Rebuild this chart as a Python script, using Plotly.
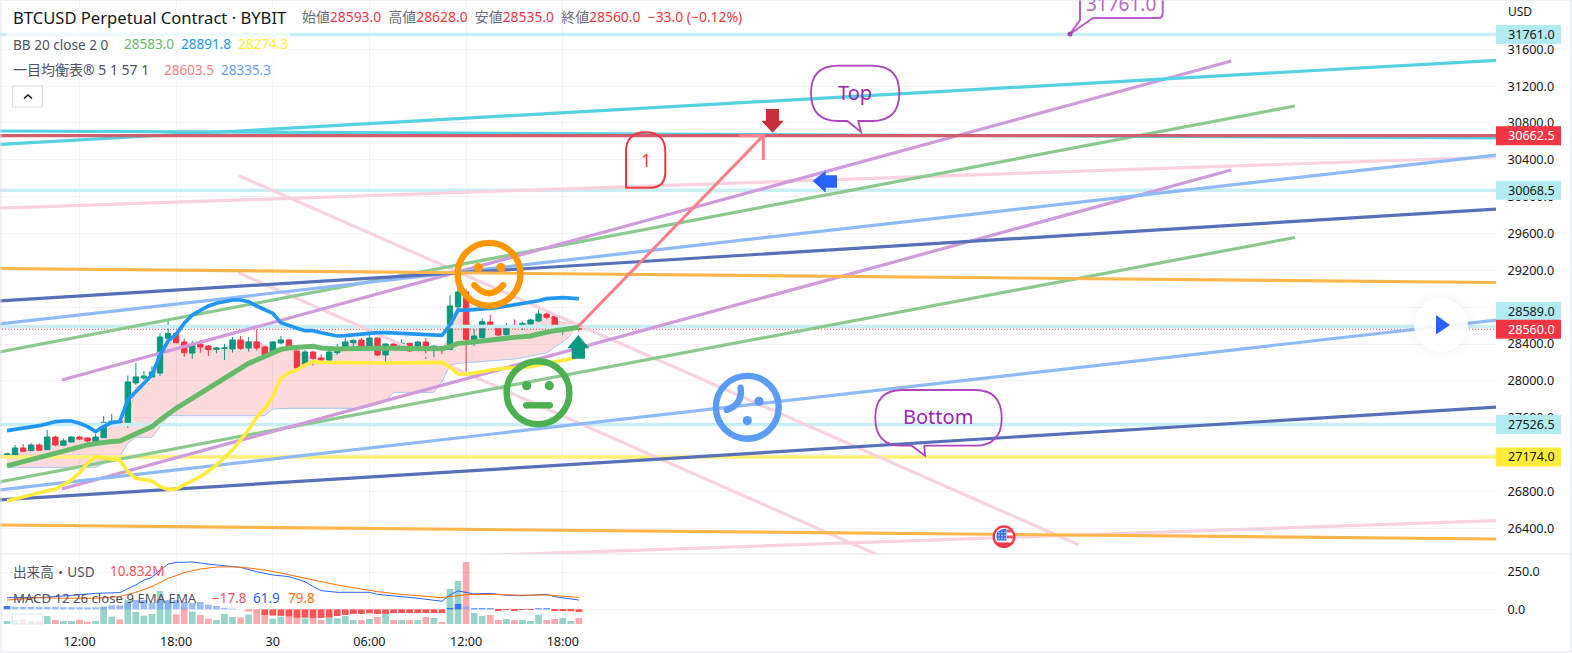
import plotly.graph_objects as go

W, H = 1572, 653
FONT = "Noto Sans, Noto Sans CJK JP, sans-serif"

# ---------- data (bar index: one bar = 30 min, 0 = 12:00 on the 29th) ----------
bars = list(range(-9, 63))
opens = [27199,27195,27271,27242,27304,27253,27390,27300,27336,27390,27380,27343,27383,27524,27561,27532,27977,28031,28042,28085,28462,28516,28422,28302,28400,28378,28342,28353,28346,28444,28357,28422,28368,28302,28411,28444,28324,28183,28313,28248,28226,28306,28335,28414,28443,28378,28465,28281,28400,28378,28407,28328,28422,28335,28371,28342,28805,28965,28443,28472,28639,28595,28501,28603,28592,28617,28650,28726,28700,28570,28577,28593]
highs = [27206,27304,27315,27322,27322,27466,27405,27376,27398,27401,27387,27423,27618,27640,27575,28060,28194,28107,28161,28516,28661,28527,28462,28436,28440,28389,28368,28400,28476,28487,28476,28559,28378,28433,28487,28451,28371,28335,28324,28288,28328,28400,28465,28451,28465,28501,28472,28407,28407,28451,28414,28433,28465,28386,28378,28932,29004,28994,28570,28679,28715,28606,28628,28668,28642,28675,28776,28747,28704,28595,28606,28628]
lows = [27170,27195,27228,27238,27242,27249,27289,27296,27333,27358,27329,27336,27380,27521,27517,27488,27955,28009,28038,28053,28433,28411,28259,28241,28306,28270,28299,28226,28306,28335,28317,28328,28277,28299,28397,28364,28125,28172,28165,28219,28219,28281,28331,28364,28364,28371,28270,28208,28371,28335,28317,28313,28237,28237,28291,28335,28769,28096,28378,28462,28588,28487,28494,28566,28552,28570,28639,28668,28588,28498,28566,28535]
closes = [27206,27271,27235,27304,27246,27390,27304,27347,27390,27369,27347,27390,27550,27561,27528,27988,28042,28053,28096,28476,28516,28415,28306,28400,28368,28339,28357,28357,28444,28353,28422,28357,28281,28422,28444,28368,28140,28313,28245,28226,28313,28320,28422,28440,28371,28465,28281,28400,28378,28407,28324,28422,28335,28378,28353,28813,28965,28451,28487,28642,28595,28498,28603,28588,28624,28661,28726,28690,28595,28595,28595,28560]

bb_basis = [27076,27100,27123,27141,27159,27182,27206,27236,27267,27285,27304,27320,27336,27342,27347,27387,27423,27459,27503,27575,27647,27702,27756,27810,27865,27930,27980,28035,28089,28143,28190,28226,28263,28299,28342,28357,28364,28368,28375,28357,28349,28346,28349,28353,28353,28353,28353,28353,28353,28353,28357,28360,28357,28353,28349,28371,28407,28414,28425,28440,28451,28458,28469,28472,28480,28487,28509,28530,28545,28556,28566,28583]
bb_upper = [27459,27472,27485,27499,27513,27535,27557,27564,27564,27539,27503,27448,27503,27546,27557,27792,27883,27962,28064,28281,28433,28505,28625,28715,28769,28813,28842,28860,28878,28878,28860,28813,28769,28733,28632,28596,28570,28545,28545,28523,28501,28487,28491,28501,28509,28516,28523,28523,28519,28516,28516,28509,28509,28501,28494,28606,28769,28769,28773,28780,28787,28798,28813,28823,28834,28849,28870,28892,28899,28903,28899,28891.8]
bb_lower = [26696,26720,26743,26766,26790,26806,26822,26873,26924,27003,27105,27177,27159,27148,27141,27014,26942,26924,26913,26851,26822,26826,26869,26913,26960,27021,27086,27170,27249,27358,27466,27604,27702,27828,28027,28089,28118,28172,28208,28201,28201,28205,28205,28205,28201,28197,28194,28194,28197,28197,28197,28201,28201,28201,28201,28147,28074,28071,28081,28100,28118,28132,28139,28143,28147,28154,28172,28190,28208,28226,28241,28274.3]

span_a = [27220,27195,27231,27257,27275,27315,27340,27351,27358,27372,27376,27365,27430,27503,27557,27575,27937,27955,27980,28281,28407,28418,28371,28353,28353,28346,28346,28353,28400,28418,28426,28426,28389,28335,28371,28360,28317,28270,28245,28244,28262,28299,28364,28407,28414,28425,28389,28364,28378,28389,28378,28378,28371,28360,28353,28480,28842,28697,28534,28624,28617,28570,28588,28606,28606,28624,28697,28715,28668,28632,28624,28603.5]
span_b = [27061]*12 + [27105,27141,27177,27322,27387,27387,27387,27503,27622,27622,27622,27622,27622,27622,27622,27622,27622,27622,27622,27622,27622,27694,27702,27702,27702,27702,27702,27702,27702,27702,27702,27702,27702,27720,27745,27774,27875,27875,27875,27875,27875,27875,27991,28172,28190,28197,28205,28205,28212,28219,28226,28237,28252,28270,28288,28306,28364,28425,28498]

volume_m = [5.4,7.2,8.4,6,6,14.4,7.2,5.4,5.4,7.8,4.2,5.4,30.6,13.2,8.4,43.2,21.6,15,18,59.4,40.2,17.4,30,22.2,16.2,9.6,7.2,18,12.6,12,16.8,21.6,18,9.6,13.2,13.2,22.2,10.2,10.8,7.2,10.8,10.2,14.4,7.2,7.2,9,12.6,18,7.2,7.2,7.2,7.2,12.6,10.8,3.6,63,77.4,111.6,19.8,14.4,16.2,7.2,9,7.2,7.2,5.4,16.2,7.2,9,10.8,5.4,10.832]
macd_hist = [22,17,16,16,15,15,16,14,14,14,13,14,18,27,27,45,62,62,45,62,62,62,47,42,49,31,22,9,4,0,-15,-20,-38,-42,-44,-49,-56,-56,-58,-58,-56,-45,-38,-31,-31,-27,-31,-31,-25,-25,-25,-25,-25,-25,-25,9,36,18,7,7,7,-5,-3,-5,-3,-3,7,7,-9,-11,-13,-17.8]
macd_bars = [-9,-5,-2,2,5,7,8,9,10,11,12,14,16,18,20,22,24,26,28,29,30,32,34,36,37,40,42,45,46,47,48,49,51,53,55,57,58,59,60,61,62]
macd_line = [78,78,89,107,112,163,196,214,263,303,314,317,303,290,281,252,230,219,185,152,125,114,116,114,100,85,74,54,96,123,111,103,107,94,91,100,100,85,78,71,61.9]
signal_bars = [-9,-5,-2,2,5,7,9,11,13,15,17,19,21,23,25,27,29,30,32,34,37,40,43,45,46,47,48,51,55,58,62]
signal_line = [62,78,74,74,85,114,152,207,245,270,283,285,277,263,243,219,196,185,163,145,118,100,87,78,85,94,98,100,94,96,79.8]

# trend lines: (bars, prices)
span = (-10, 176)
pink_lines = [((-10,176),(29874,30431)), ((50,176),(26103,26482)), ((19.75,124.1),(30230,26218)), ((19.75,99.4),(29174,26098))]
green_lines = [((-10,150.9),(28313,30984)), ((-10,150.9),(26902,29557))]
purple_lines = [((-2.21,143),(28009,31473)), ((-2.21,143),(26826,30289))]
lightblue_lines = [(span,(28617,30452)), (span,(26815,28661))]
darkblue_lines = [(span,(28867,29866)), (span,(26706,27716))]
orange_lines = [(span,(29220,29068)), (span,(26435,26283))]
teal_lines = [(span,(30713,30637)), (span,(30567,31481))]
hline_cyan = [31761.0, 30068.5, 28589.0, 27526.5]
hline_yellow = 27174.0
hline_red = 30662.5
last_price = 28560.0
arrow_bars = [61.9, 84.9, 81.9, 84.9, 84.9]
arrow_prices = [28589, 30662.5, 30662.5, 30662.5, 30398]

time_ticks = [0, 12, 24, 36, 48, 60]
time_labels = ["12:00", "18:00", "30", "06:00", "12:00", "18:00"]
price_ticks = list(range(26400, 32000, 400))
price_labels = [f"{p}.0" for p in price_ticks]

# ---------- helpers ----------
XR = [-9.87, 175.87]
PRICE_PER_PX = 10.858
PR = [31600 - (554 - 49.3) * PRICE_PER_PX, 31600 + 49.3 * PRICE_PER_PX]
def X(px): return px / W
def Y(py): return 1 - py / H
def path(*cmds):
    out = []
    for c in cmds:
        if isinstance(c, str):
            out.append(c)
        else:
            out.append(f"{X(c[0]):.6f},{Y(c[1]):.6f}")
    return " ".join(out)

shapes, annos = [], []
def add_path(cmds, fill=None, color=None, width=0, opacity=1):
    shapes.append(dict(type="path", xref="paper", yref="paper", path=path(*cmds), fillcolor=fill or "rgba(0,0,0,0)",
                       line=dict(color=color or "rgba(0,0,0,0)", width=width), opacity=opacity, layer="above"))
def add_circle(cx, cy, r, fill=None, color=None, width=0):
    shapes.append(dict(type="circle", xref="paper", yref="paper", x0=X(cx-r), x1=X(cx+r), y0=Y(cy+r), y1=Y(cy-r),
                       fillcolor=fill or "rgba(0,0,0,0)", line=dict(color=color or "rgba(0,0,0,0)", width=width), layer="above"))
def add_rect(x0, y0, x1, y1, fill=None, color=None, width=0):
    shapes.append(dict(type="rect", xref="paper", yref="paper", x0=X(x0), x1=X(x1), y0=Y(y1), y1=Y(y0),
                       fillcolor=fill or "rgba(0,0,0,0)", line=dict(color=color or "rgba(0,0,0,0)", width=width), layer="above"))
def text(px, py, s, size=13, color="#131722", anchor="left", **kw):
    annos.append(dict(xref="paper", yref="paper", x=X(px), y=Y(py), text=s, showarrow=False, xanchor=anchor, yanchor="middle",
                      font=dict(family=FONT, size=size, color=color), borderpad=0, **kw))

# ---------- traces ----------
fig = go.Figure()
fig.add_trace(go.Scatter(x=bars, y=span_b, mode="lines", line=dict(color="#a9c6f5", width=1), yaxis="y", hoverinfo="skip"))
fig.add_trace(go.Scatter(x=bars, y=span_a, mode="lines", line=dict(color="#f9bcc0", width=1), fill="tonexty",
                         fillcolor="rgba(242,54,69,0.18)", yaxis="y", hoverinfo="skip"))
fig.add_trace(go.Candlestick(x=bars, open=opens, high=highs, low=lows, close=closes, yaxis="y4", whiskerwidth=0,
                             increasing=dict(line=dict(color="#089981", width=1), fillcolor="#089981"),
                             decreasing=dict(line=dict(color="#f23645", width=1), fillcolor="#f23645"), hoverinfo="skip"))
def seg(xs, ys, color, width=3.2, **kw):
    fig.add_trace(go.Scatter(x=list(xs), y=list(ys), mode="lines", line=dict(color=color, width=width, **kw), yaxis="y4", hoverinfo="skip"))
for p in hline_cyan:
    seg(span, (p, p), "#c9eff4", 3.5)
seg(span, (hline_yellow, hline_yellow), "#fff176", 3.5)
seg(span, (last_price, last_price), "#f23645", 1, dash="1px,2px")
for group, col in ((pink_lines, "#f9d2df"), (green_lines, "#8cc98f"), (purple_lines, "#cf9bdb"),
                   (lightblue_lines, "#8fbaf7"), (darkblue_lines, "#5870b8"), (orange_lines, "#ffb74d"), (teal_lines, "#55d2e2")):
    for xs, ys in group:
        seg(xs, ys, col, 3.2)
seg(span, (hline_red, hline_red), "#cf5f6c", 3.2)
seg(arrow_bars, arrow_prices, "#f7808a", 3)
seg(bars, bb_lower, "#ffeb3b", 3.6)
seg(bars, bb_upper, "#2196f3", 3.7)
seg(bars, bb_basis, "#66bb6a", 5)

vol_col = ["rgba(8,153,129,0.42)" if c >= o else "rgba(242,54,69,0.42)" for o, c in zip(opens, closes)]
fig.add_trace(go.Bar(x=bars, y=volume_m, width=0.83, marker=dict(color=vol_col, line_width=0), yaxis="y2", hoverinfo="skip"))
bright_pos = {-9, 46, 47, 49, 50, 51, 57, 58}
pale_neg = {21, 22}
hist_col = []
for b, v in zip(bars, macd_hist):
    if v >= 0:
        hist_col.append("rgba(41,98,255,0.85)" if b in bright_pos else "rgba(120,165,245,0.75)")
    else:
        hist_col.append("rgba(255,82,82,0.55)" if b in pale_neg else "rgba(255,82,82,1)")
fig.add_trace(go.Bar(x=bars, y=macd_hist, width=0.83, marker=dict(color=hist_col, line_width=0), yaxis="y3", hoverinfo="skip"))
fig.add_trace(go.Scatter(x=macd_bars, y=macd_line, mode="lines", line=dict(color="#2962ff", width=1), yaxis="y3", hoverinfo="skip"))
fig.add_trace(go.Scatter(x=signal_bars, y=signal_line, mode="lines", line=dict(color="#ff6d00", width=1), yaxis="y3", hoverinfo="skip"))

# ---------- drawings ----------
add_rect(6, 6, 290, 82, fill="rgba(255,255,255,0.7)")
FACE_W = 6.4
add_circle(489, 274.3, 31.4, color="#ff9800", width=FACE_W)
add_circle(478.3, 267.6, 4.6, fill="#ff9800"); add_circle(501, 267.6, 4.6, fill="#ff9800")
add_path(["M", (474.3, 285), "Q", (489, 301.6), (503.3, 285)], color="#ff9800", width=FACE_W)
add_circle(474.3, 285, 3.1, fill="#ff9800"); add_circle(503.3, 285, 3.1, fill="#ff9800")
add_circle(538, 392.7, 31.4, color="#4caf50", width=FACE_W)
add_circle(526.7, 385.7, 4.6, fill="#4caf50"); add_circle(549.3, 385.7, 4.6, fill="#4caf50")
add_path(["M", (526, 405.3), "L", (550, 405.3)], color="#4caf50", width=FACE_W)
add_circle(526, 405.3, 3.1, fill="#4caf50"); add_circle(550, 405.3, 3.1, fill="#4caf50")
add_circle(747.3, 407.3, 31.4, color="#5b9cf6", width=FACE_W)
add_circle(759, 401.3, 4.6, fill="#5b9cf6"); add_circle(747.3, 420.6, 4.6, fill="#5b9cf6")
add_path(["M", (740.6, 387.6), "Q", (743, 404.4), (726.6, 410)], color="#5b9cf6", width=FACE_W)
add_circle(740.6, 387.6, 3.1, fill="#5b9cf6"); add_circle(726.6, 410, 3.1, fill="#5b9cf6")
# arrows
add_path(["M", (766, 109), "L", (779, 109), "L", (779, 120.7), "L", (784, 120.7), "L", (772.5, 132.7), "L", (761.3, 120.7), "L", (766, 120.7), "Z"], fill="#c62f3c")
add_path(["M", (812.7, 181), "L", (825.7, 170.7), "L", (825.7, 175.3), "L", (837, 175.3), "L", (837, 187.7), "L", (825.7, 187.7), "L", (825.7, 192.7), "Z"], fill="#2962ff")
add_path(["M", (578.3, 335), "L", (589.3, 348.3), "L", (585, 348.3), "L", (585, 358.7), "L", (571.7, 358.7), "L", (571.7, 348.3), "L", (567.3, 348.3), "Z"], fill="#089981")
# callouts
add_path(["M", (838, 65.7), "L", (872, 65.7), "Q", (899.3, 65.7), (899.3, 93), "Q", (899.3, 121), (872, 121), "L", (858.3, 121), "L", (861, 132), "L", (847.3, 121),
          "L", (838, 121), "Q", (811, 121), (811, 93), "Q", (811, 65.7), (838, 65.7), "Z"], color="#ab47bc", width=1.8)
text(855, 93, "Top", size=20, color="#9c27b0", anchor="center")
add_path(["M", (902, 390), "L", (975, 390), "Q", (1001.7, 390), (1001.7, 418), "Q", (1001.7, 445.7), (975, 445.7), "L", (924.3, 445.7), "L", (925, 455.7), "L", (911.7, 445.7),
          "L", (902, 445.7), "Q", (875.3, 445.7), (875.3, 418), "Q", (875.3, 390), (902, 390), "Z"], color="#ab47bc", width=1.8)
text(938.3, 416, "Bottom", size=20, color="#9c27b0", anchor="center")
add_path(["M", (626, 187.7), "L", (626, 152), "Q", (626, 132.3), (645.7, 132.3), "Q", (665.3, 132.3), (665.3, 152), "L", (665.3, 172), "Q", (665.3, 187.7), (650, 187.7), "Z"], color="#f23645", width=2)
text(645.7, 160, "1", size=18, color="#f23645", anchor="center")
add_path(["M", (1080, -6), "L", (1080, 20), "L", (1070, 34), "L", (1093, 18), "L", (1158, 18), "Q", (1162.7, 18), (1162.7, 13), "L", (1162.7, -6)], color="#ba5cc9", width=2)
add_circle(1070, 34, 2.5, fill="#ab47bc")
text(1121, 4.5, "31761.0", size=19, color="#ba68c8", anchor="center")
# flag
add_circle(1004, 536.7, 10.3, fill="#ffffff", color="#f23645", width=2.2)
add_path(["M", (1007, 529.5), "L", (1011, 529.5), "L", (1012.5, 532.5), "L", (1007, 532.5), "Z"], fill="#f45a66")
add_path(["M", (1007, 535.5), "L", (1013.5, 535.5), "L", (1013.5, 538.5), "L", (1007, 538.5), "Z"], fill="#f45a66")
add_path(["M", (995.5, 542.5), "L", (1012.5, 542.5), "Q", (1009, 546), (1004, 546), "Q", (999, 546), (995.5, 542.5), "Z"], fill="#f23645")
add_path(["M", (997.3, 540.5), "Q", (995.5, 536), (997.3, 531.7), "Q", (1001, 529), (1006.5, 528.6), "L", (1006.5, 540.5), "Z"], fill="#3f73e6")
for dot_y in (532.5, 535.5, 538.5):
    for dot_x in (999, 1002, 1005):
        add_circle(dot_x, dot_y, 0.7, fill="#dfe9ff")
# play button
for r, a in ((36, 0.006), (32, 0.008), (29, 0.012)):
    add_circle(1441, 325, r, fill=f"rgba(0,0,0,{a})")
add_circle(1441, 325, 27, fill="rgba(255,255,255,0.9)")
add_path(["M", (1436, 315), "L", (1450, 325), "L", (1436, 334.5), "Z"], fill="#2962ff")
# collapse buttons
add_rect(12.5, 86, 42.5, 107, fill="#ffffff", color="#d6d9e2", width=1)
add_path(["M", (24, 98.5), "L", (28, 95), "L", (32, 98.5)], color="#131722", width=1.6)
add_rect(12.5, 614, 42.5, 624, fill="rgba(255,255,255,0.75)", color="#e0e3eb", width=1)
# pane borders
add_rect(1, 0, 1571, 652, color="#e0e3eb", width=1)
shapes.append(dict(type="line", xref="paper", yref="paper", x0=X(1), x1=X(1571), y0=Y(554), y1=Y(554), line=dict(color="#e0e3eb", width=1), layer="above"))

# legends
text(11.5, 17, "BTCUSD Perpetual Contract · BYBIT", size=16.6, color="#131722")
r = '<span style="color:#f23645">%s</span>'
text(301, 16, "始値" + r % "28593.0" + "  高値" + r % "28628.0" + "  安値" + r % "28535.0" + "  終値" + r % "28560.0" + "  " + r % "−33.0 (−0.12%)", size=13.9, color="#6a6d78")
text(11.5, 44, "BB 20 close 2 0", size=13.6, color="#4f5260")
text(123, 44, "28583.0", size=13.5, color="#66bb6a")
text(180, 44, "28891.8", size=13.5, color="#2196f3")
text(237, 44, "28274.3", size=13.5, color="#ffeb3b")
text(11.5, 70, "一目均衡表® 5 1 57 1", size=14, color="#4f5260")
text(163, 70, "28603.5", size=13.5, color="#fa8080")
text(220, 70, "28335.3", size=13.5, color="#64a0ff")
text(11.5, 571, "出来高・USD", size=13.6, color="#4f5260")
text(109, 571, "10.832M", size=13.5, color="#f7525f")
text(11.5, 598, "MACD 12 26 close 9 EMA EMA", size=13.2, color="#4f5260")
text(211, 598, "−17.8", size=13.5, color="#f7525f")
text(252, 598, "61.9", size=13.5, color="#2962ff")
text(287, 598, "79.8", size=13.5, color="#ff6d00")
text(1507, 12, "USD", size=12, color="#131722")
# axis price boxes: background rectangle at the level's price, label centred in the number area
BOX_H = 19 * PRICE_PER_PX
def price_box(price, bg, fg="#131722", shift_px=0):
    mid = price + shift_px * PRICE_PER_PX
    shapes.append(dict(type="rect", xref="paper", yref="y", x0=X(1496), x1=X(1561), y0=mid - BOX_H / 2, y1=mid + BOX_H / 2,
                       fillcolor=bg, line=dict(width=0), layer="above"))
    annos.append(dict(xref="paper", yref="y", x=X(1531), y=mid, text=f"{price:.1f}", showarrow=False, xanchor="center", yanchor="middle",
                      borderpad=0, font=dict(family=FONT, size=12.6, color=fg)))
price_box(31761.0, "#b2ebf2")
price_box(30662.5, "#f23645", "#ffffff")
price_box(30068.5, "#b2ebf2")
price_box(28589.0, "#b2ebf2", shift_px=15)
price_box(28560.0, "#f23645", "#ffffff")
price_box(27526.5, "#b2ebf2")
price_box(27174.0, "#ffeb3b")

GRID = "#f1f3f8"
xdom = [0, 1496 / W]
fig.update_layout(
    width=W, height=H, margin=dict(l=0, r=0, t=0, b=0), paper_bgcolor="#ffffff", plot_bgcolor="#ffffff",
    showlegend=False, dragmode=False, barmode="overlay", boxgap=0.05, shapes=shapes, annotations=annos,
    font=dict(family=FONT, size=13, color="#131722"),
    xaxis=dict(domain=xdom, range=XR, anchor="y2", tickmode="array", tickvals=time_ticks, ticktext=time_labels, showgrid=True, gridcolor=GRID, gridwidth=1,
               zeroline=False, showline=False, ticks="outside", ticklen=6, tickcolor="rgba(0,0,0,0)", rangeslider=dict(visible=False), tickfont=dict(size=12.6, color="#131722")),
    yaxis=dict(domain=[1 - 554 / H, 1], range=PR, side="right", anchor="x", tickmode="array", tickvals=price_ticks, ticktext=price_labels, showgrid=True, gridcolor=GRID,
               zeroline=False, showline=False, ticks="outside", ticklen=8, tickcolor="rgba(0,0,0,0)", tickfont=dict(size=12.6, color="#131722")),
    yaxis4=dict(overlaying="y", range=PR, visible=False),
    yaxis2=dict(domain=[1 - 624 / H, 1 - 554 / H], range=[0, 126], anchor="x", visible=False),
    yaxis3=dict(overlaying="y2", range=[-98.5, 370.6], side="right", anchor="x", tickmode="array", tickvals=[0, 250], ticktext=["0.0", "250.0"], showgrid=True, gridcolor=GRID,
                zeroline=False, showline=False, ticks="outside", ticklen=8, tickcolor="rgba(0,0,0,0)", tickfont=dict(size=12.6, color="#131722")),
)
fig.write_html("out.html", config=dict(displayModeBar=False),
               post_script="document.body.style.margin='0';document.body.style.overflow='hidden';")
